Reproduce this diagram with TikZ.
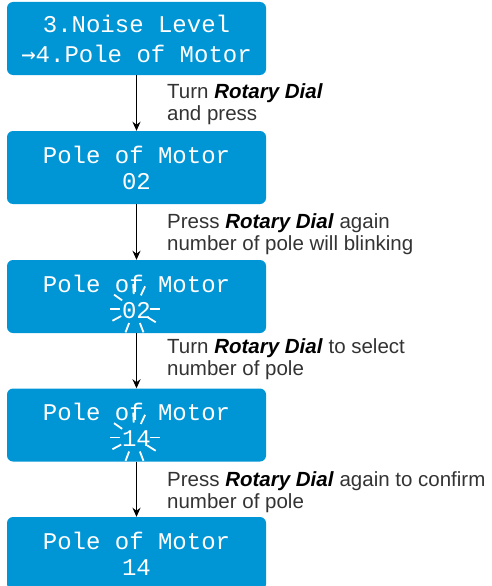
\documentclass[tikz,border=0pt]{standalone}
\usepackage{fontspec}
\setmainfont{Liberation Sans}
\newfontfamily\lcdfont{Liberation Mono}
\newfontfamily\arrowfont{DejaVu Sans Mono}
\usetikzlibrary{arrows.meta,calc}
\definecolor{lcdblue}{RGB}{0,150,214}
\definecolor{notegray}{RGB}{51,51,51}
\newcommand{\dial}{\textcolor{black}{\textbf{\textit{Rotary Dial}}}}

\tikzset{
  lcd/.style={fill=lcdblue, rounded corners=6pt, minimum width=259pt, minimum height=73pt,
    inner sep=0pt, text=white, align=center, font=\lcdfont\fontsize{24}{26}\selectfont},
  note/.style={anchor=base west, align=left, inner sep=0pt, text=notegray,
    font=\fontsize{20.5}{22}\selectfont},
  flow/.style={-{Stealth[length=9pt,width=8pt]}, line width=1.5pt},
  ray/.style={white, line width=1.8pt}
}

\begin{document}
\begin{tikzpicture}[x=1pt,y=-1pt]
    \useasboundingbox (0,0) rectangle (491,586);

    % LCD screens
    \node[lcd, font=\lcdfont\fontsize{24}{30}\selectfont] (menu) at (136.5,38.5)
        {3.Noise Level\\{\arrowfont →}4.Pole of Motor};
    \node[lcd] (pole) at (136.5,167.5) {Pole of Motor\\02};
    \node[lcd] (blink) at (136.5,296.5) {Pole of Motor\\02};
    \node[lcd] (select) at (136.5,425) {Pole of Motor\\14};
    \node[lcd] (done) at (136.5,553.5) {Pole of Motor\\14};

    % Blinking number
    \coordinate (blinknum) at ($(blink.center)+(-2,12.5)$);
    \coordinate (selectnum) at ($(select.center)+(-2,12.5)$);
    \foreach \a in {0,65,93,145,180,208,249,291,328} {
        \draw[ray] (blinknum) ++(-\a:15) -- ++(-\a:10);
        \draw[ray] (selectnum) ++(-\a:15) -- ++(-\a:10);
    }

    % Steps
    \draw[flow] (menu.south) -- (pole.north);
    \draw[flow] (pole.south) -- (blink.north);
    \draw[flow] (blink.south) -- (select.north);
    \draw[flow] (select.south) -- (done.north);

    % Text (base = last line)
    \node[note] (turn) at (167,120) {Turn \dial\\and press};
    \node[note] (press) at (167,250) {Press \dial{} again\\number of pole will blinking};
    \node[note] (choose) at (167,375) {Turn \dial{} to select\\number of pole};
    \node[note] (confirm) at (167,508) {Press \dial{} again to confirm\\number of pole};

\end{tikzpicture}
\end{document}
